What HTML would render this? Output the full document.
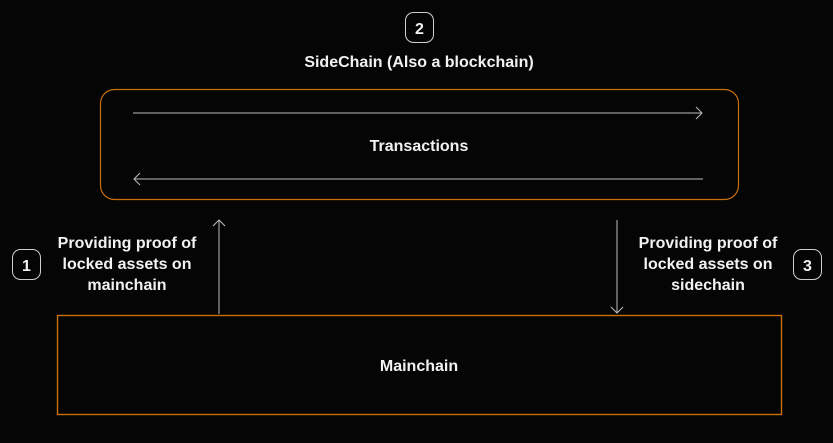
<!DOCTYPE html>
<html><head><meta charset="utf-8"><style>
html,body{margin:0;padding:0;background:#050505;width:833px;height:443px;overflow:hidden}
svg{display:block}
text{font-family:"Liberation Sans",sans-serif;fill:#f2f2f2;font-weight:bold}
</style></head><body>
<svg width="833" height="443" viewBox="0 0 833 443">
<rect width="833" height="443" fill="#050505"/>
<rect x="100.5" y="89.5" width="638" height="110" rx="14" fill="none" stroke="#c8700e" stroke-width="1.2"/>
<rect x="57.5" y="315.5" width="724" height="99" fill="none" stroke="#c8700e" stroke-width="1.4"/>
<g stroke="#bdbdbd" stroke-width="1" fill="none">
<line x1="133" y1="113" x2="702" y2="113"/>
<polyline points="696,107 702,113 696,119"/>
<line x1="134" y1="179" x2="703" y2="179"/>
<polyline points="140,173 134,179 140,185"/>
<line x1="219" y1="314" x2="219" y2="220"/>
<polyline points="213,226 219,220 225,226"/>
<line x1="617" y1="220" x2="617" y2="313"/>
<polyline points="611,307 617,313 623,307"/>
</g>
<g fill="none" stroke="#cfcfcf" stroke-width="1">
<rect x="405.5" y="12.5" width="28" height="30" rx="8"/>
<rect x="12.5" y="249.5" width="28" height="30" rx="8"/>
<rect x="793.5" y="249.5" width="28" height="30" rx="8"/>
</g>
<g font-size="16" text-anchor="middle">
<text x="419.5" y="34">2</text>
<text x="26.5" y="271">1</text>
<text x="807.5" y="271">3</text>
<text x="419" y="67">SideChain (Also a blockchain)</text>
<text x="419" y="151">Transactions</text>
<text x="419" y="371">Mainchain</text>
<text x="127" y="248">Providing proof of</text>
<text x="127" y="269">locked assets on</text>
<text x="127" y="290">mainchain</text>
<text x="708" y="248">Providing proof of</text>
<text x="708" y="269">locked assets on</text>
<text x="708" y="290">sidechain</text>
</g>
</svg>
</body></html>
